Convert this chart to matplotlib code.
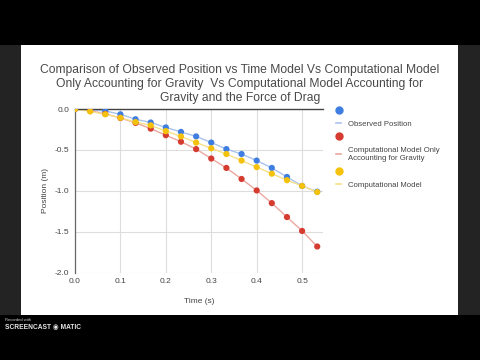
import matplotlib
matplotlib.use("Agg")
import matplotlib.pyplot as plt
from matplotlib.patches import Rectangle
from matplotlib.lines import Line2D

plt.rcParams["font.family"] = ["Liberation Sans", "DejaVu Sans"]

# time samples (s), frames at 30 fps
time_s = [0.0, 0.0333, 0.0667, 0.1, 0.1333, 0.1667, 0.2, 0.2333, 0.2667,
          0.3, 0.3333, 0.3667, 0.4, 0.4333, 0.4667, 0.5, 0.5333]
observed = [0.0, -0.01, -0.025, -0.065, -0.125, -0.165, -0.225, -0.28, -0.335,
            -0.41, -0.49, -0.55, -0.63, -0.72, -0.83, -0.94, -1.01]
gravity_only = [0.0, -0.02, -0.06, -0.11, -0.17, -0.24, -0.32, -0.40, -0.49,
                -0.605, -0.72, -0.855, -0.995, -1.15, -1.32, -1.49, -1.68]
with_drag = [0.0, -0.03, -0.065, -0.107, -0.16, -0.2, -0.27, -0.335, -0.41,
             -0.48, -0.55, -0.63, -0.71, -0.79, -0.87, -0.94, -1.015]

labels = ["Observed Position", "Computational Model Only\nAccounting for Gravity",
          "Computational Model"]
colors = ["#3f7ee0", "#d63b30", "#f4c20d"]
line_colors = ["#a9c3ee", "#eba7a0", "#f7e08a"]
x_ticks = [0.0, 0.1, 0.2, 0.3, 0.4, 0.5]
y_ticks = [0.0, -0.5, -1.0, -1.5, -2.0]

fig = plt.figure(figsize=(4.8, 3.6), dpi=100, facecolor="black")

# screenshot framing: dark side strips and the white slide
fig.add_artist(Rectangle((0, 1 - 315 / 360), 1, 270 / 360, transform=fig.transFigure,
                         facecolor="#232323", edgecolor="none", zorder=-3))
fig.add_artist(Rectangle((21 / 480, 1 - 315 / 360), 437 / 480, 270 / 360,
                         transform=fig.transFigure, facecolor="white",
                         edgecolor="none", zorder=-2))

ax = fig.add_axes([75 / 480, 1 - 272.7 / 360, 248 / 480, 163.7 / 360])
ax.set_facecolor("white")

series = [observed, gravity_only, with_drag]
for vals, c, lc in zip(series, colors, line_colors):
    ax.plot(time_s, vals, color=lc, lw=1.0, zorder=2)
for vals, c in zip(series, colors):
    ax.scatter(time_s, vals, s=20, color=c, edgecolors="none", zorder=3)

ax.set_xlim(0, 0.546)
ax.set_ylim(-2.0, 0.0)
ax.set_xticks(x_ticks)
ax.set_xticklabels([f"{v:.1f}" for v in x_ticks])
ax.set_yticks(y_ticks)
ax.set_yticklabels([f"{v:.1f}" for v in y_ticks])
ax.grid(True, color="#dddddd", lw=0.8)
ax.set_axisbelow(True)
for side in ["right", "bottom"]:
    ax.spines[side].set_visible(False)
ax.spines["left"].set_color("#666666")
ax.spines["top"].set_color("#444444")
ax.spines["left"].set_linewidth(0.9)
ax.spines["top"].set_linewidth(1.0)
ax.tick_params(length=0, labelsize=6, colors="#444444", pad=4)
ax.set_xlabel("Time (s)", fontsize=6, color="#444444", labelpad=9)
ax.set_ylabel("Position (m)", fontsize=6, color="#444444", labelpad=4)

fig.text(0.5, 1 - 84 / 360,
         "Comparison of Observed Position vs Time Model Vs Computational Model\n"
         "Only Accounting for Gravity  Vs Computational Model Accounting for\n"
         "Gravity and the Force of Drag",
         ha="center", va="center", fontsize=8.7, color="#4a4a4a", linespacing=1.2)

handles = []
names = []
for c, lc, lab in zip(colors, line_colors, labels):
    handles.append(Line2D([], [], ls="none", marker="o", ms=5, color=c))
    names.append("")
    handles.append(Line2D([], [], color=lc, lw=1.2))
    names.append(lab)
leg = ax.legend(handles, names, loc="upper left", bbox_to_anchor=(1.04, 1.03),
                frameon=False, fontsize=5.6, handlelength=0.7, handletextpad=0.8,
                labelspacing=0.75, borderaxespad=0)
for t in leg.get_texts():
    t.set_color("#444444")

fig.text(5 / 480, 1 - 320 / 360, "Recorded with", fontsize=3, color="#cccccc",
         va="center")
fig.text(5 / 480, 1 - 327 / 360, "SCREENCAST \u25c9 MATIC", fontsize=4.8,
         color="#e8e8e8", fontweight="bold", va="center")

fig.savefig("out.png", dpi=100, facecolor="black")
